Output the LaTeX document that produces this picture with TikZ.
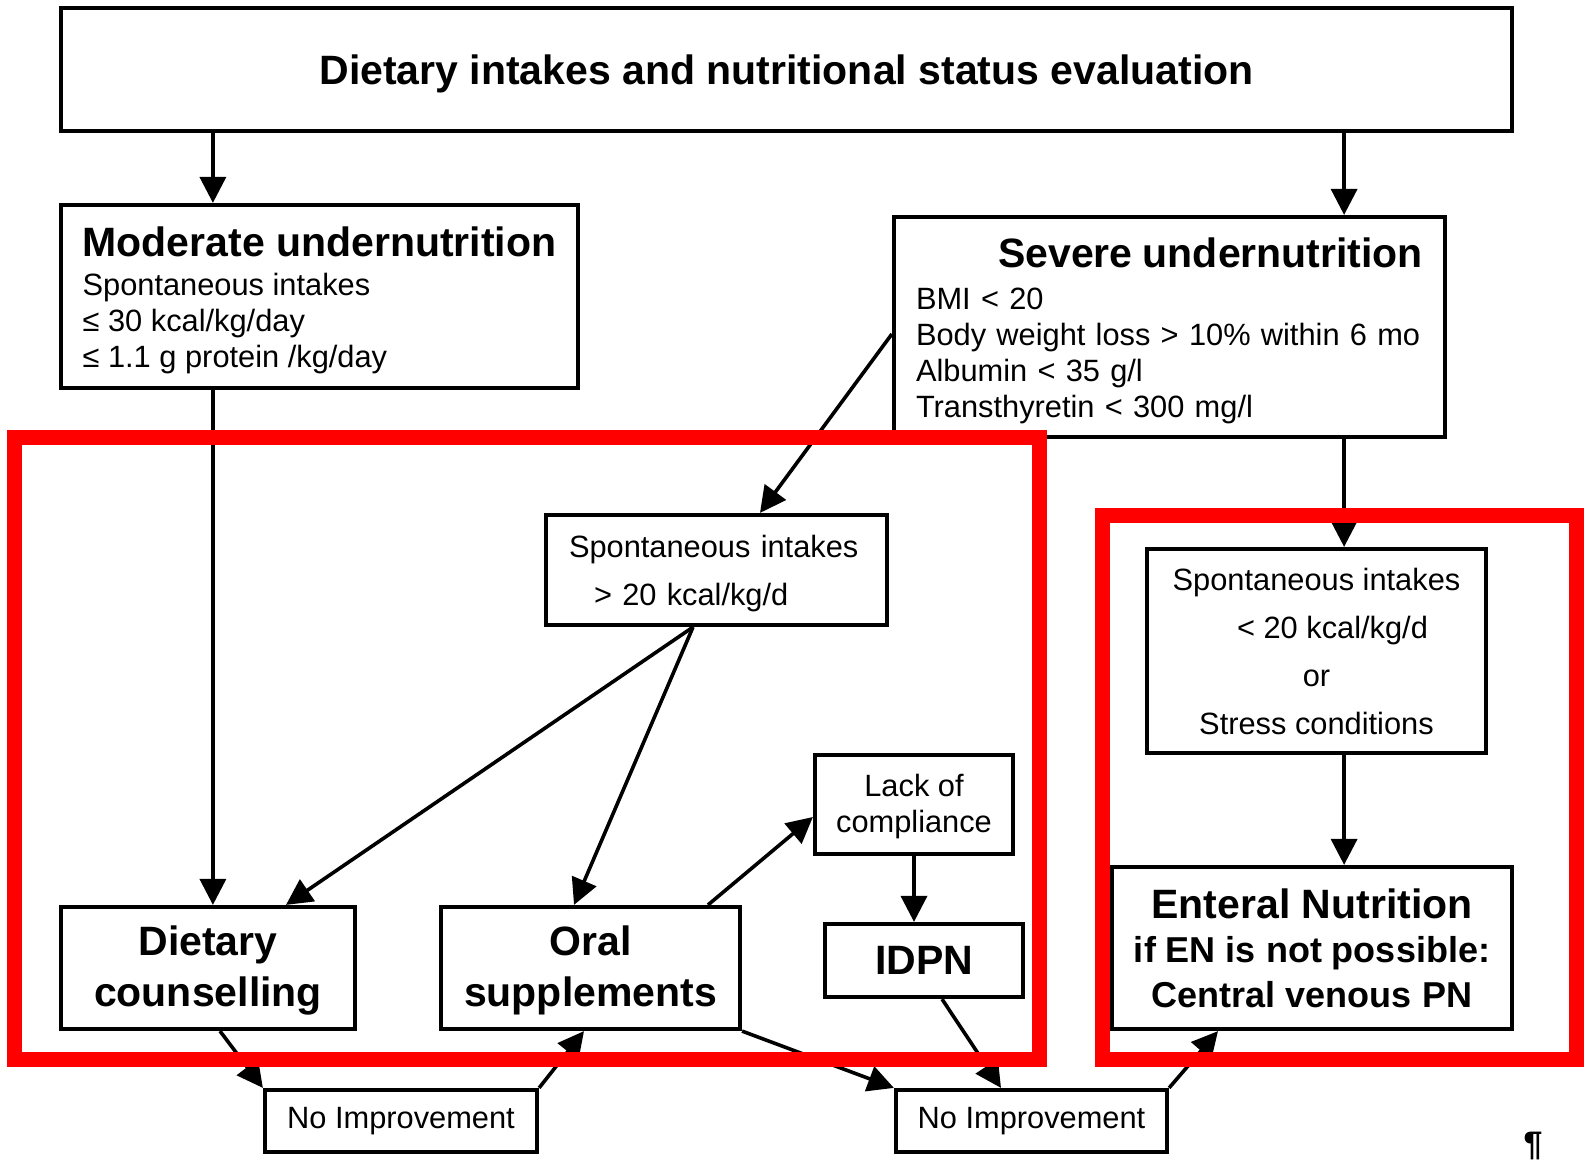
\documentclass[tikz,border=0pt]{standalone}
\usepackage{fontspec}
\setmainfont{Liberation Sans}
\usetikzlibrary{arrows.meta}
\tikzset{
  box/.style={draw, line width=2.1pt, inner sep=0pt, align=center},
  headfont/.style={font=\fontsize{20.5}{25.5}\selectfont\bfseries},
  bodyfont/.style={font=\fontsize{15.4}{18}\selectfont},
  arr/.style={-{Triangle[length=13pt,width=13pt]}, line width=1.8pt},
  redframe/.style={draw=red, line width=7.5pt}
}
\begin{document}
\begin{tikzpicture}[x=0.5pt,y=-0.5pt]
  \useasboundingbox (0,0) rectangle (1585,1161);
  \node[box, headfont, text depth=0pt, minimum width=725.5pt, minimum height=61.5pt] (title) at (786.5,69.5)
    {Dietary intakes and nutritional status evaluation};
  \node[box, bodyfont, align=left, minimum width=258.5pt, minimum height=91.5pt] (moder) at (319.5,296.5)
    {\rule{0pt}{19pt}{\fontsize{20.5}{25.5}\selectfont\bfseries Moderate undernutrition}\\[1.5pt]
     Spontaneous intakes\\ ≤ 30 kcal/kg/day\\ ≤ 1.1 g protein /kg/day};
  \node[box, bodyfont, align=left, text width=253.5pt, inner xsep=11pt, minimum height=110pt] (severe) at (1169.5,327)
    {\rule{0pt}{19pt}\hspace*{\fill}{\fontsize{20.5}{25.5}\selectfont\bfseries Severe undernutrition}\\[3pt]
     BMI < 20\\ Body weight loss > 10\% within 6 mo\\ Albumin < 35 g/l\\ Transthyretin < 300 mg/l};
  \node[box, font=\fontsize{15.4}{24}\selectfont, align=left, text width=147.5pt, inner xsep=11.5pt, minimum height=55pt] (spont20) at (716.5,570)
    {\rule{0pt}{15pt}Spontaneous intakes\\ \hspace*{12.5pt}> 20 kcal/kg/d};
  \node[box, font=\fontsize{15.4}{24}\selectfont, minimum width=169.5pt, minimum height=102pt] (spontlow) at (1316.5,651)
    {Spontaneous intakes\\ \hspace*{16pt}< 20 kcal/kg/d\\ or\\ Stress conditions};
  \node[box, font=\fontsize{18}{22.25}\selectfont\bfseries, minimum width=200pt, minimum height=81pt] (enteral) at (1312,948)
    {{\fontsize{20.5}{22.25}\selectfont Enteral Nutrition}\\ if EN is not possible:\\ Central venous PN};
  \node[box, headfont, minimum width=147pt, minimum height=61pt] (dietary) at (208,968) {\rule{0pt}{17pt}Dietary\\ counselling};
  \node[box, headfont, minimum width=149.5pt, minimum height=61pt] (oral) at (590.5,968) {\rule{0pt}{17pt}Oral\\ supplements};
  \node[box, bodyfont, minimum width=99pt, minimum height=49.5pt] (lack) at (914,804.5) {\rule{0pt}{13.5pt}Lack of\\ compliance};
  \node[box, headfont, minimum width=99pt, minimum height=36.5pt] (idpn) at (924,960.5) {IDPN};
  \node[box, bodyfont, minimum width=136pt, minimum height=31pt] (noimpA) at (401,1121) {No Improvement};
  \node[box, bodyfont, minimum width=135.5pt, minimum height=31pt] (noimpB) at (1031.5,1121) {No Improvement};
  \node[font=\fontsize{17}{17}\selectfont\bfseries, anchor=south, inner sep=0pt] (pilcrow) at (1533,1160) {¶};
  \coordinate (mline) at ([xshift=77pt]moder.north west);
  \coordinate (sline) at ([xshift=-51.5pt]severe.north east);
  \begin{scope}[arr]
    \draw (title.south -| mline) -- (mline);
    \draw (moder.south -| mline) -- (dietary.north -| mline);
    \draw (title.south -| sline) -- (sline);
    \draw (severe.south -| sline) -- (spontlow.north -| sline);
    \draw (spontlow.south -| sline) -- (enteral.north -| sline);
    \draw ([yshift=-3.5pt]severe.west) -- ([xshift=21.75pt]spont20.north);
    \draw ([xshift=-11.75pt]spont20.south) -- ([xshift=39pt]dietary.north);
    \draw ([xshift=-11.75pt]spont20.south) -- ([xshift=-8.25pt]oral.north);
    \draw ([xshift=58.75pt]oral.north) -- ([yshift=-6.25pt]lack.west);
    \draw (lack.south) -- (idpn.north -| lack.south);
    \draw ([xshift=6pt]dietary.south) -- (noimpA.north west);
    \draw (noimpA.north east) -- ([xshift=-3.25pt]oral.south);
    \draw (oral.south east) -- (noimpB.north west);
    \draw ([xshift=9pt]idpn.south) -- ([xshift=-15.25pt]noimpB.north);
    \draw (noimpB.north east) -- ([xshift=-47pt]enteral.south);
  \end{scope}
  \draw[redframe] (14.7,437) rectangle (1039,1059);
  \draw[redframe] (1102,515) rectangle (1576,1059);
\end{tikzpicture}
\end{document}
